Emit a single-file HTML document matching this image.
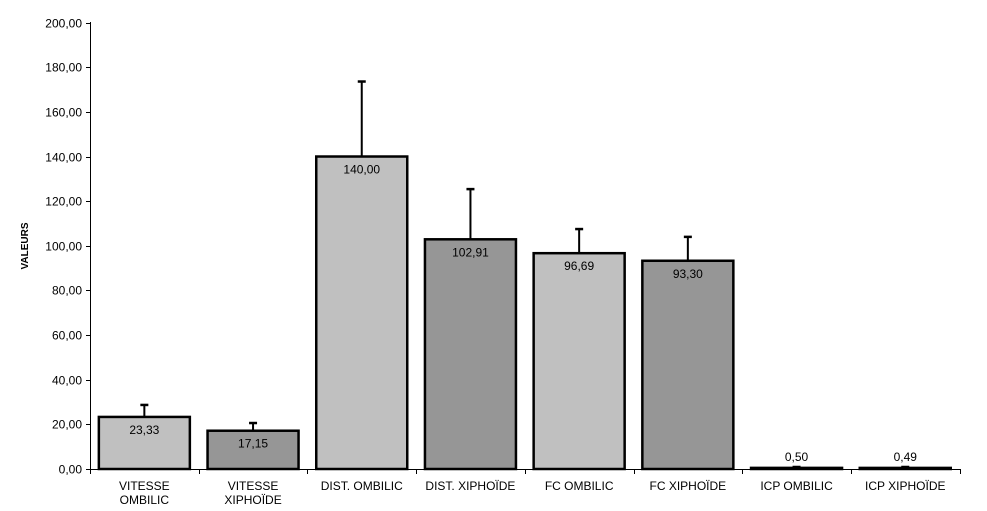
<!DOCTYPE html>
<html><head><meta charset="utf-8"><style>body{margin:0;background:#fff}svg{display:block}</style></head><body>
<svg width="987" height="511" xmlns="http://www.w3.org/2000/svg" font-family="Liberation Sans, Arial, sans-serif">
<g stroke="#000" stroke-width="1">
<line x1="90.5" y1="22" x2="90.5" y2="469"/>
<line x1="90" y1="469.5" x2="960" y2="469.5"/>
</g>
<g id="ticks" stroke="#000" stroke-width="1"></g>
<g id="yl" font-size="12" text-anchor="end" fill="#000"></g>
<text x="28" y="246" font-size="10" font-weight="bold" text-anchor="middle" transform="rotate(-90 28 246)">VALEURS</text>
<g id="bars"></g>
<script>
const ns="http://www.w3.org/2000/svg";
function el(p,t,a,txt){const e=document.createElementNS(ns,t);for(const k in a)e.setAttribute(k,a[k]);if(txt!==undefined)e.textContent=txt;p.appendChild(e);return e;}
const Y=v=>469-v*2.232;
const tk=document.getElementById('ticks'),yl=document.getElementById('yl'),bg=document.getElementById('bars');
for(let v=0;v<=200;v+=20){const y=Math.round(Y(v))+0.5;el(tk,'line',{x1:86,y1:y,x2:91,y2:y});el(yl,'text',{x:82,y:y+4},v.toFixed(2).replace('.',','));}
for(let i=0;i<=8;i++){const x=Math.round(90+i*108.7)+0.5;el(tk,'line',{x1:x,y1:469,x2:x,y2:474});}
const d=[[23.33,28.7,'c0c0c0',['VITESSE','OMBILIC']],[17.15,20.6,'969696',['VITESSE','XIPHOÏDE']],[140,173.6,'c0c0c0',['DIST. OMBILIC']],[102.91,125.4,'969696',['DIST. XIPHOÏDE']],[96.69,107.5,'c0c0c0',['FC OMBILIC']],[93.30,104,'969696',['FC XIPHOÏDE']],[0.5,0.9,'c0c0c0',['ICP OMBILIC']],[0.49,0.9,'969696',['ICP XIPHOÏDE']]];
d.forEach((b,i)=>{const cx=90+108.7*(i+0.5);const x0=cx-45.5;const yt=Y(b[0]);
el(bg,'line',{x1:cx,y1:Y(b[1]),x2:cx,y2:yt,stroke:'#000','stroke-width':2});
el(bg,'line',{x1:cx-4,y1:Y(b[1]),x2:cx+4,y2:Y(b[1]),stroke:'#000','stroke-width':2.5});
el(bg,'rect',{x:x0,y:yt,width:91,height:469-yt,fill:'#'+b[2],stroke:'#000','stroke-width':2.5});
el(bg,'text',{x:cx,y:b[0]<5?yt-7:yt+17,'font-size':12,'text-anchor':'middle'},b[0].toFixed(2).replace('.',','));
b[3].forEach((s,j)=>el(bg,'text',{x:cx,y:b[3].length>1?490+j*14:490,'font-size':12,'text-anchor':'middle'},s));
});
</script>
</svg>
</body></html>
